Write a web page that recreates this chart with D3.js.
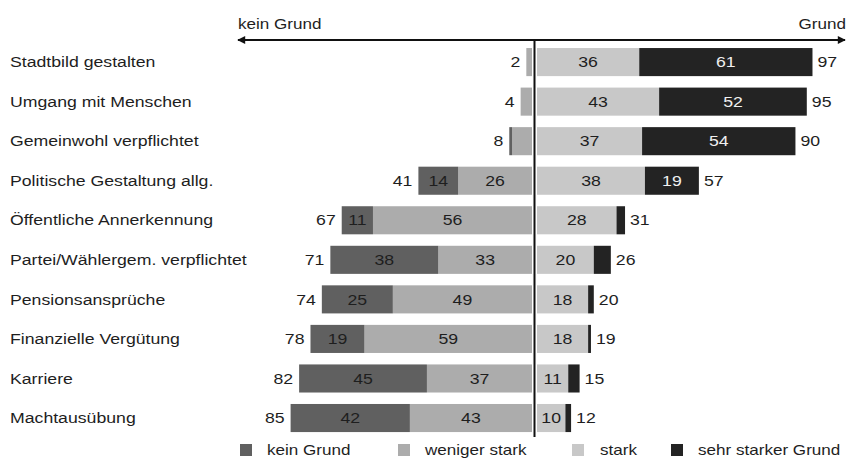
<!DOCTYPE html>
<html>
<head>
<meta charset="utf-8">
<script src="https://cdn.jsdelivr.net/npm/d3@7"></script>
<style>
  html, body { margin: 0; padding: 0; background: #fff; }
  svg { display: block; font-family: "Liberation Sans", Arial, sans-serif; }
</style>
</head>
<body>
<svg id="chart" width="861" height="458"></svg>
<script>
// Motive für ein kommunales Mandat: Anteile in Prozent
const categories = [
  "Stadtbild gestalten",
  "Umgang mit Menschen",
  "Gemeinwohl verpflichtet",
  "Politische Gestaltung allg.",
  "Öffentliche Annerkennung",
  "Partei/Wählergem. verpflichtet",
  "Pensionsansprüche",
  "Finanzielle Vergütung",
  "Karriere",
  "Machtausübung"
];
const keinGrund    = [0, 0, 1, 14, 11, 38, 25, 19, 45, 42];
const wenigerStark = [2, 4, 7, 26, 56, 33, 49, 59, 37, 43];
const stark        = [36, 43, 37, 38, 28, 20, 18, 18, 11, 10];
const sehrStark    = [61, 52, 54, 19, 3, 6, 2, 1, 4, 2];
const summeKein    = [2, 4, 8, 41, 67, 71, 74, 78, 82, 85];
const summeGrund   = [97, 95, 90, 57, 31, 26, 20, 19, 15, 12];

const legendLabels = ["kein Grund", "weniger stark", "stark", "sehr starker Grund"];
const colors = ["#606060", "#acacac", "#c8c8c8", "#232323"];

const svg = d3.select("#chart");

// wide lettering: every label is stretched horizontally around its anchor
const SX = 1.22;
function label(sel, x, y, size) {
  return sel.attr("x", 0).attr("y", 0).attr("dy", "0.36em")
    .attr("transform", (d, i) => {
      const xx = typeof x === "function" ? x(d, i) : x;
      const yy = typeof y === "function" ? y(d, i) : y;
      return `translate(${xx},${yy}) scale(${SX},1)`;
    })
    .attr("font-size", size).attr("fill", "#1e1e1e");
}

// two half-axes meeting at the centre line
const centreX = 534.5;
const xLeft  = d3.scaleLinear().domain([0, 100]).range([532, 532 - 284]);
const xRight = d3.scaleLinear().domain([0, 100]).range([537, 537 + 284]);
const y = d3.scaleBand().domain(categories).range([42.3, 437.8])
  .paddingInner(0.29).paddingOuter(0.145);

const rows = categories.map((c, i) => ({
  cat: c,
  left: [
    { key: 1, v0: 0, v1: wenigerStark[i], v: wenigerStark[i] },
    { key: 0, v0: wenigerStark[i], v1: wenigerStark[i] + keinGrund[i], v: keinGrund[i] }
  ],
  right: [
    { key: 2, v0: 0, v1: stark[i], v: stark[i] },
    { key: 3, v0: stark[i], v1: stark[i] + sehrStark[i], v: sehrStark[i] }
  ],
  totL: summeKein[i],
  totR: summeGrund[i],
  endL: wenigerStark[i] + keinGrund[i],
  endR: stark[i] + sehrStark[i]
}));

// header arrow
const defs = svg.append("defs");
defs.append("marker").attr("id", "head").attr("viewBox", "0 0 10 10")
  .attr("refX", 9).attr("refY", 5).attr("markerWidth", 6).attr("markerHeight", 4)
  .attr("markerUnits", "strokeWidth").attr("orient", "auto-start-reverse")
  .append("path").attr("d", "M0,0 L10,5 L0,10 Z").attr("fill", "#111");

svg.append("line")
  .attr("x1", 238).attr("x2", 845).attr("y1", 40).attr("y2", 40)
  .attr("stroke", "#111").attr("stroke-width", 2)
  .attr("marker-start", "url(#head)").attr("marker-end", "url(#head)");

label(svg.append("text"), 238, 24, 14).text("kein Grund");
label(svg.append("text"), 846, 24, 14).attr("text-anchor", "end").text("Grund");

const row = svg.selectAll("g.row").data(rows).join("g")
  .attr("class", "row")
  .attr("transform", d => `translate(0,${y(d.cat)})`);

const bh = y.bandwidth();

// category names
label(row.append("text"), 10, bh / 2, 14.5).text(d => d.cat);

// left segments
row.selectAll("rect.l").data(d => d.left).join("rect").attr("class", "l")
  .attr("x", s => xLeft(s.v1)).attr("width", s => xLeft(s.v0) - xLeft(s.v1))
  .attr("y", 0).attr("height", bh).attr("fill", s => colors[s.key]);

// right segments
row.selectAll("rect.r").data(d => d.right).join("rect").attr("class", "r")
  .attr("x", s => xRight(s.v0)).attr("width", s => xRight(s.v1) - xRight(s.v0))
  .attr("y", 0).attr("height", bh).attr("fill", s => colors[s.key]);

// segment values
label(row.selectAll("text.ls").data(d => d.left.filter(s => s.v >= 10)).join("text").attr("class", "ls"),
  s => (xLeft(s.v0) + xLeft(s.v1)) / 2, bh / 2, 14.5)
  .attr("text-anchor", "middle").text(s => s.v);

label(row.selectAll("text.rs").data(d => d.right.filter(s => s.v >= 10)).join("text").attr("class", "rs"),
  s => (xRight(s.v0) + xRight(s.v1)) / 2, bh / 2, 14.5)
  .attr("text-anchor", "middle")
  .attr("fill", s => s.key === 3 ? "#f0f0f0" : "#1e1e1e")
  .text(s => s.v);

// totals
label(row.append("text"), d => xLeft(d.endL) - 6, bh / 2, 14.5)
  .attr("text-anchor", "end").text(d => d.totL);
label(row.append("text"), d => xRight(d.endR) + 5, bh / 2, 14.5)
  .text(d => d.totR);

// centre line
svg.append("line").attr("x1", centreX).attr("x2", centreX)
  .attr("y1", 40).attr("y2", 437).attr("stroke", "#111").attr("stroke-width", 2);

// legend
const legendX = [240, 398, 572, 671];
const lg = svg.selectAll("g.legend").data(legendLabels).join("g")
  .attr("class", "legend")
  .attr("transform", (d, i) => `translate(${legendX[i]},450)`);
lg.append("rect").attr("x", 0).attr("y", -6).attr("width", 12).attr("height", 12)
  .attr("fill", (d, i) => colors[i]);
label(lg.append("text"), (d, i) => i === 2 ? 28 : 27, 0, 14).text(d => d);
</script>
</body>
</html>
